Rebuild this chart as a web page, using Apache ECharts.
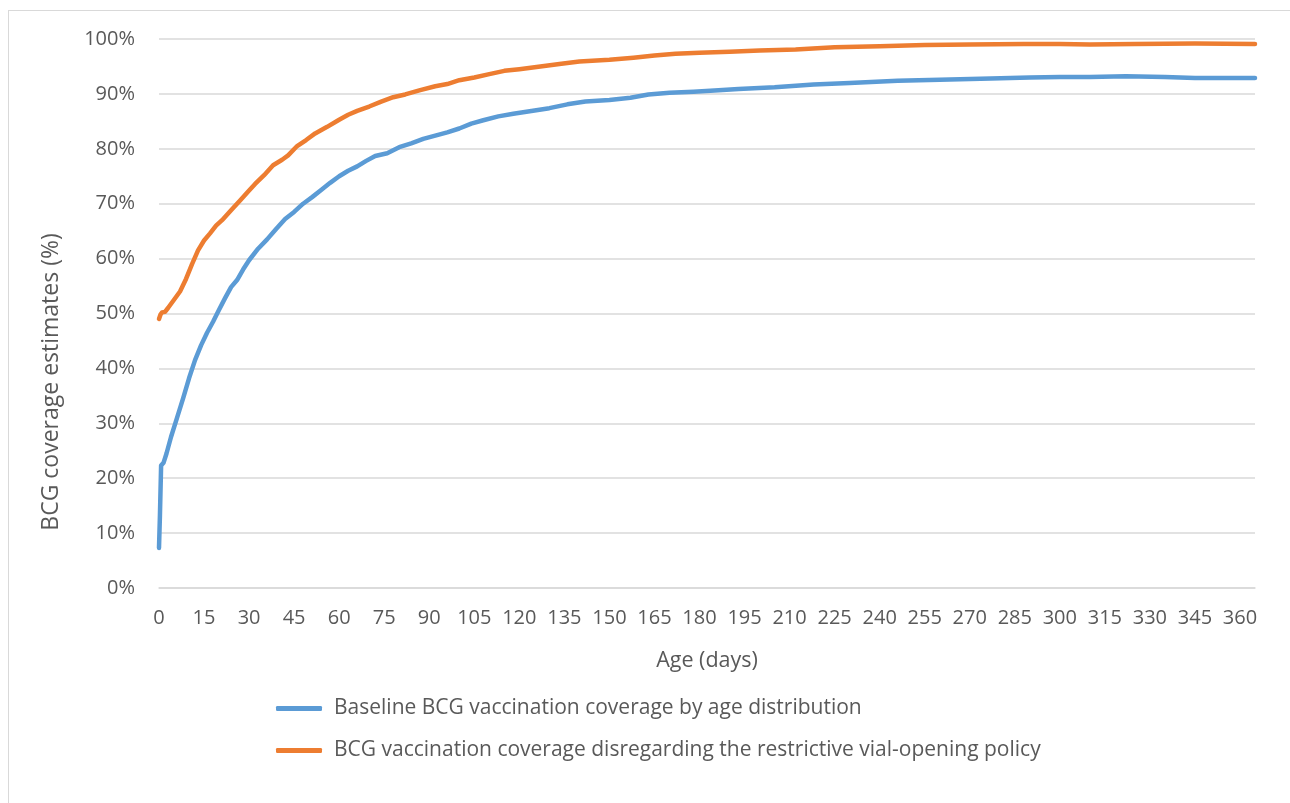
<!DOCTYPE html>
<html>
<head>
<meta charset="utf-8">
<script src="https://cdn.jsdelivr.net/npm/echarts@6/dist/echarts.min.js"></script>
<style>
html,body{margin:0;padding:0;background:#fff;}
#frame{position:absolute;left:8px;top:10px;width:1300px;height:820px;border-left:1px solid #d9d9d9;border-top:1px solid #d9d9d9;}
#chart{position:absolute;left:0;top:0;width:1290px;height:803px;}
</style>
</head>
<body>
<div id="frame"></div>
<div id="chart"></div>
<script>
// Age (days) and coverage (%)
const baselineDays = [0,0.3,0.7,1.5,2.5,4,6,8,10,12,14,16,18,20,22,24,26,28,30,33,36,39,42,45,48,51,54,57,60,63,66,69,72,76,80,84,88,92,96,100,104,108,113,118,124,130,136,142,150,157,163,170,178,185,193,205,218,230,246,260,277,290,300,310,322,335,345,355,365];
const baselineCov  = [7.3,13,22.3,22.8,24.5,27.5,31,34.5,38.2,41.5,44.2,46.5,48.5,50.7,52.8,54.8,56.1,58,59.7,61.8,63.5,65.4,67.2,68.5,70,71.2,72.5,73.8,75.0,76.0,76.8,77.8,78.7,79.2,80.3,81.0,81.8,82.4,83.0,83.7,84.6,85.2,85.9,86.4,86.9,87.4,88.1,88.6,88.9,89.3,89.9,90.2,90.4,90.6,90.9,91.2,91.7,92.0,92.4,92.6,92.8,93.0,93.1,93.1,93.2,93.1,92.9,92.9,92.9];

const policyDays = [0,0.5,1,2,3,5,7,9,11,13,15,17,19,21,24,27,30,32,35,38,41,43,46,49,52,56,60,63,66,70,74,78,82,87,92,96,100,105,110,115,120,127,134,140,150,158,165,172,180,190,200,212,225,240,255,270,288,300,310,325,345,365];
const policyCov  = [49.0,49.8,50.2,50.3,51.0,52.5,54.0,56.3,59.0,61.5,63.3,64.6,66.0,67.0,68.8,70.6,72.4,73.6,75.2,77.0,78.0,78.8,80.5,81.6,82.8,84.0,85.3,86.2,86.9,87.7,88.6,89.4,89.9,90.7,91.4,91.8,92.5,93.0,93.6,94.2,94.5,95.0,95.5,95.9,96.2,96.6,97.0,97.3,97.5,97.7,97.9,98.1,98.5,98.7,98.9,99.0,99.1,99.1,99.0,99.1,99.2,99.1];

const seriesNames = [
  'Baseline BCG vaccination coverage by age distribution',
  'BCG vaccination coverage disregarding the restrictive vial-opening policy'
];
const xTitle = 'Age (days)';
const yTitle = 'BCG coverage estimates (%)';

const pair = (xs, ys) => xs.map((x, i) => [x, ys[i]]);
const FONT = 'Open Sans';
const chart = echarts.init(document.getElementById('chart'), null, {renderer: 'canvas'});
chart.setOption({
  animation: false,
  backgroundColor: 'transparent',
  grid: {left: 159, right: 35, top: 39, bottom: 215, containLabel: false},
  xAxis: {
    type: 'value', min: 0, max: 365, interval: 15,
    name: xTitle, nameLocation: 'middle', nameGap: 62,
    nameTextStyle: {fontFamily: FONT, fontSize: 21.5, color: '#595959'},
    axisLine: {show: true, lineStyle: {color: '#d9d9d9', width: 1.5}},
    axisTick: {show: false},
    splitLine: {show: false},
    axisLabel: {showMaxLabel: false, margin: 20, fontFamily: FONT, fontSize: 20, color: '#595959',
      formatter: v => (v > 360 ? '' : String(v))}
  },
  yAxis: {
    type: 'value', min: 0, max: 100, interval: 10,
    name: yTitle, nameLocation: 'middle', nameGap: 96, nameRotate: 90,
    nameTextStyle: {fontFamily: FONT, fontSize: 23, color: '#595959', padding: [0, 137, 0, 0]},
    axisLine: {show: false}, axisTick: {show: false},
    splitLine: {show: true, lineStyle: {color: '#d9d9d9', width: 1.5}},
    axisLabel: {margin: 24, fontFamily: FONT, fontSize: 20, color: '#595959', formatter: '{value}%'}
  },
  legend: {
    orient: 'vertical', left: 271, top: 693, itemGap: 21,
    itemWidth: 46, itemHeight: 5, icon: 'roundRect',
    textStyle: {fontFamily: FONT, fontSize: 21, color: '#595959', padding: [0, 0, 0, 7]},
    data: seriesNames
  },
  series: [
    {name: seriesNames[0], type: 'line', data: pair(baselineDays, baselineCov), showSymbol: false, symbol: 'none',
     lineStyle: {color: '#5B9BD5', width: 4.5, cap: 'round', join: 'round'}, itemStyle: {color: '#5B9BD5'}},
    {name: seriesNames[1], type: 'line', data: pair(policyDays, policyCov), showSymbol: false, symbol: 'none',
     lineStyle: {color: '#ED7D31', width: 4.5, cap: 'round', join: 'round'}, itemStyle: {color: '#ED7D31'}}
  ]
});
</script>
</body>
</html>
